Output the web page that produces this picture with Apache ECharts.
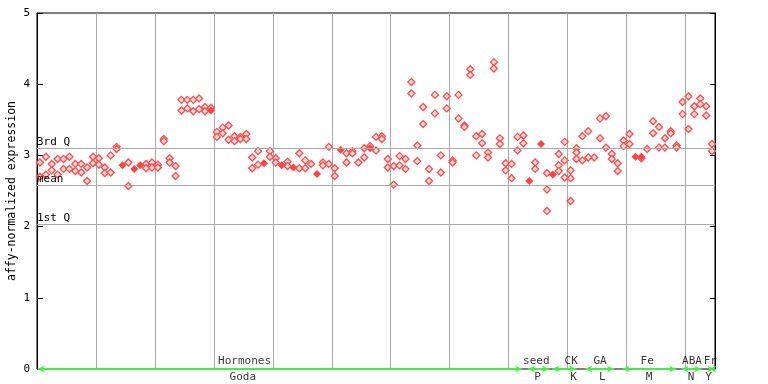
<!DOCTYPE html>
<html><head><meta charset="utf-8">
<script src="https://cdn.jsdelivr.net/npm/echarts@6/dist/echarts.min.js"></script>
<style>html,body{margin:0;padding:0;background:#fff}#c{width:768px;height:384px}</style>
</head><body><div id="c"></div>
<script>
const sampleCount = 115;
const rep1 = [2.90,2.98,2.88,2.95,2.95,2.98,2.88,2.88,2.83,2.98,
2.96,2.83,3.00,3.12,null,2.90,null,null,2.88,2.90,
2.87,3.23,2.96,2.85,3.78,3.78,3.78,3.80,3.68,3.67,
3.33,3.39,3.42,3.27,3.26,3.30,2.97,3.06,null,3.06,
2.96,null,2.91,null,3.03,2.93,2.88,null,2.90,3.12,
2.82,null,3.03,3.06,2.90,3.10,3.13,3.26,3.27,2.95,
2.85,2.99,2.95,4.03,3.14,3.68,2.81,3.85,3.00,3.83,
2.93,3.85,3.42,4.21,3.27,3.30,3.04,4.31,3.24,2.89,
2.88,3.26,3.28,null,2.90,null,2.75,null,3.02,3.19,
2.79,3.10,3.27,3.34,2.97,3.52,3.55,3.02,2.89,3.21,
3.30,null,2.96,3.09,3.48,3.40,3.24,3.34,3.14,3.75,
3.83,3.69,3.80,3.69,3.16];
const rep2 = [2.70,2.73,2.79,2.73,2.81,2.81,2.78,2.76,2.64,2.89,
2.87,2.75,2.76,3.09,null,2.57,null,null,2.82,2.83,
2.83,3.20,2.90,2.71,3.63,3.66,3.62,3.65,3.62,null,
3.26,3.31,3.22,3.20,3.23,3.23,2.82,2.87,null,2.98,
2.90,null,2.85,null,2.82,2.82,null,null,2.86,2.88,
2.71,null,2.90,3.03,null,2.97,null,3.07,3.23,2.83,
2.59,2.86,2.81,3.87,2.92,3.44,2.64,3.59,2.76,3.66,
2.90,3.52,3.40,4.13,3.00,3.17,2.97,4.22,3.16,2.79,
2.68,3.07,3.17,null,2.81,null,2.52,null,2.86,2.93,
2.68,3.04,2.93,2.97,null,3.24,3.11,2.95,2.78,3.13,
3.16,null,null,null,3.31,3.11,3.11,3.31,3.11,3.58,
3.37,3.58,3.72,3.56,3.06];
const extraIdx = [86,88,89,90,91];
const extraVal = [2.22,2.78,2.69,2.36,2.95];
const filledIdx = [14,16,17,29,38,41,43,47,51,56,83,85,87,101,102];
const filledVal = [2.86,2.81,2.86,3.63,2.89,2.86,2.83,2.74,3.08,3.10,2.64,3.16,2.73,2.98,2.98];

const statNames = ['3rd Q','mean','1st Q'];
const statVals = [3.10, 2.58, 2.03];

const groupTop = ['Hormones','seed','CK','GA','Fe','ABA','Fr'];
const groupTopPos = [35.2, 84.7, 90.6, 95.5, 103.5, 111.1, 114.2];
const groupBottom = ['Goda','P','K','L','M','N','Y'];
const groupBottomPos = [34.9, 84.9, 91.0, 95.9, 103.8, 110.96, 113.9];
const groupStart = [0.1, 83.3, 87.4, 93.0, 99.3, 109.3, 114.0];
const groupEnd = [82.3, 86.9, 91.5, 97.9, 108.4, 112.7, 114.9];

const yTicks = [0,1,2,3,4,5];

const MONO = '"DejaVu Sans Mono", "Liberation Mono", monospace';
const toPts = arr => arr.map((v,i)=> v==null?null:[i+0.5, v]).filter(p=>p);
const hollowData = toPts(rep1).concat(toPts(rep2)).concat(extraIdx.map((ix,k)=>[ix+0.5, extraVal[k]]));
const filledData = filledIdx.map((ix,k)=>[ix+0.5, filledVal[k]]);

const chart = echarts.init(document.getElementById('c'), null, {renderer:'canvas'});
chart.setOption({
  animation:false,
  grid:{left:37, right:53, top:13, bottom:15, show:true, borderColor:'#000', borderWidth:1,
    backgroundColor:'transparent', containLabel:false, outerBoundsMode:'none'},
  xAxis:{type:'value', min:0, max:sampleCount, interval:10,
    axisLine:{show:false}, axisTick:{show:false}, axisLabel:{show:false},
    splitLine:{show:true, lineStyle:{color:'#aaaaaa', width:1}}},
  yAxis:[{type:'value', min:yTicks[0], max:yTicks[yTicks.length-1], interval:1, position:'left',
    axisLine:{show:true, lineStyle:{color:'#000'}},
    axisTick:{show:true, inside:true, length:6, lineStyle:{color:'#000'}},
    axisLabel:{margin:7, fontFamily:MONO, fontSize:11, color:'#000', hideOverlap:false},
    splitLine:{show:false},
    name:'affy-normalized expression', nameLocation:'middle', nameGap:19, nameMoveOverlap:false,
    nameTextStyle:{fontFamily:MONO, fontSize:11.5, color:'#000'}},
   {type:'value', min:yTicks[0], max:yTicks[yTicks.length-1], interval:1, position:'right',
    axisLine:{show:true, lineStyle:{color:'#000'}},
    axisTick:{show:true, inside:true, length:5, lineStyle:{color:'#000'}},
    axisLabel:{show:false}, splitLine:{show:false}}],
  series:[
    {type:'scatter', name:'stats', data:[], silent:true,
     markLine:{silent:true, symbol:'none', animation:false,
       lineStyle:{color:'#aaaaaa', type:'solid', width:1},
       label:{position:'insideStartTop', distance:[0,1], fontFamily:MONO, fontSize:11, color:'#000',
         formatter:p=>p.name},
       data:statVals.map((v,i)=>({name:statNames[i], yAxis:v}))}},
    {type:'scatter', name:'groups', data:[], silent:true, z:5,
     markLine:{silent:true, symbol:['arrow','arrow'], symbolSize:[5,7], animation:false,
       lineStyle:{color:'#44ee44', type:'solid', width:2},
       label:{show:false},
       data:groupStart.map((s,i)=>[{coord:[s,0]},{coord:[groupEnd[i],0]}])}},
    {type:'scatter', name:'hollow', data:hollowData, symbol:'diamond', symbolSize:7, z:3,
     itemStyle:{color:'#ffdcdc', borderColor:'#ff4d4d', borderWidth:1.3, opacity:1}},
    {type:'scatter', name:'filled', data:filledData, symbol:'diamond', symbolSize:8, z:4,
     itemStyle:{color:'#ff4444', opacity:1}},
    {type:'scatter', name:'topLabels', silent:true, symbolSize:0, z:6,
     data:groupTop.map((t,i)=>({value:[groupTopPos[i],0], name:t})),
     label:{show:true, position:'top', distance:2, formatter:p=>p.name, fontFamily:MONO, fontSize:11, color:'#000'}},
    {type:'scatter', name:'bottomLabels', silent:true, symbolSize:0, z:6,
     data:groupBottom.map((t,i)=>({value:[groupBottomPos[i],0], name:t})),
     label:{show:true, position:'bottom', distance:3, formatter:p=>p.name, fontFamily:MONO, fontSize:11, color:'#000'}}
  ]
});
</script></body></html>
